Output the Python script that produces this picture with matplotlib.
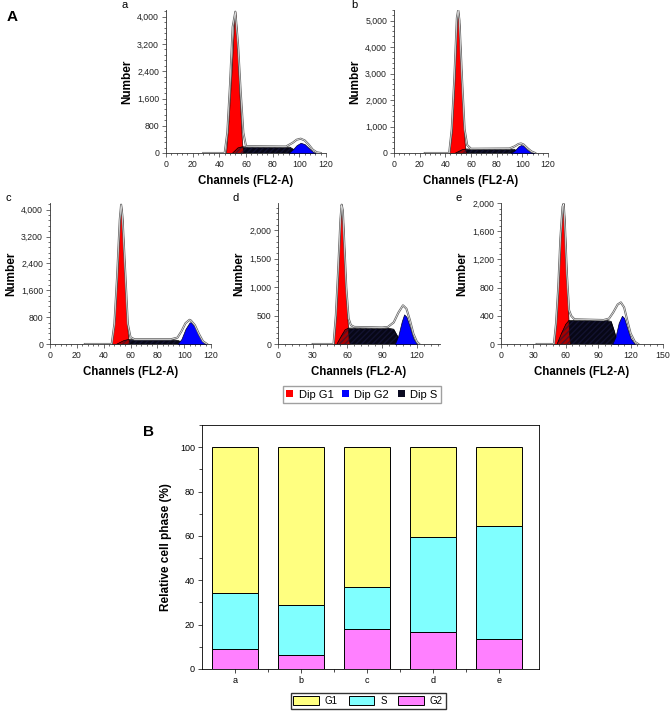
import matplotlib
matplotlib.use('Agg')
import matplotlib.pyplot as plt
from matplotlib.ticker import MultipleLocator, AutoMinorLocator, FuncFormatter
from matplotlib.patches import Patch

plt.rcParams['font.family'] = ['Liberation Sans', 'DejaVu Sans']

# ---------------- Panel A data ----------------
panel_names = ['a', 'b', 'c', 'd', 'e']

g1_ch_a = [45, 47, 49, 51, 52, 53, 55, 57, 58]
g1_val_a = [0, 1000, 2300, 3800, 4150, 3600, 1800, 300, 0]
s_ch_a = [50, 54, 57, 60, 90, 93, 96, 99]
s_val_a = [0, 150, 180, 180, 180, 170, 100, 0]
g2_ch_a = [92, 95, 98, 101, 104, 107, 110, 112]
g2_val_a = [0, 100, 230, 300, 260, 150, 40, 0]
tot_ch_a = [28, 44, 46, 48, 50, 52, 54, 56, 58, 60, 90, 95, 98, 101, 104, 107, 110, 113, 116]
tot_val_a = [0, 0, 600, 2000, 3700, 4150, 3200, 1800, 600, 200, 190, 300, 390, 420, 370, 250, 100, 20, 0]

g1_ch_b = [43, 45, 47, 49, 50, 51, 53, 55, 56]
g1_val_b = [0, 800, 2600, 5000, 5400, 4800, 2400, 400, 0]
s_ch_b = [48, 53, 56, 90, 94, 97]
s_val_b = [0, 120, 150, 150, 140, 0]
g2_ch_b = [91, 94, 97, 99, 101, 104, 107, 109]
g2_val_b = [0, 90, 250, 300, 270, 120, 20, 0]
tot_ch_b = [24, 43, 45, 47, 49, 50, 51, 53, 55, 57, 60, 90, 94, 97, 99, 101, 104, 107, 110]
tot_val_b = [0, 0, 900, 2800, 5100, 5400, 5000, 2800, 900, 300, 160, 170, 250, 340, 360, 320, 180, 60, 0]

g1_ch_c = [46, 48, 50, 52, 53, 54, 56, 58, 59]
g1_val_c = [0, 700, 2000, 3700, 4150, 3700, 1900, 300, 0]
s_ch_c = [50, 55, 58, 92, 96, 99]
s_val_c = [0, 100, 130, 130, 100, 0]
g2_ch_c = [95, 98, 101, 104, 105, 108, 111, 114, 116]
g2_val_c = [0, 150, 450, 640, 650, 520, 250, 60, 0]
tot_ch_c = [26, 46, 48, 50, 52, 53, 54, 56, 58, 60, 63, 90, 95, 98, 101, 104, 105, 108, 111, 114, 117]
tot_val_c = [0, 0, 600, 2000, 3700, 4150, 3800, 2200, 600, 200, 140, 140, 190, 380, 620, 720, 700, 560, 300, 80, 0]

g1_ch_d = [48, 50, 52, 54, 55, 56, 57, 59, 61, 62]
g1_val_d = [0, 500, 1300, 2200, 2450, 2300, 1800, 800, 100, 0]
s_ch_d = [51, 55, 58, 61, 95, 100, 103, 106]
s_val_d = [0, 150, 250, 280, 280, 260, 150, 0]
g2_ch_d = [101, 104, 107, 109, 111, 114, 117, 120]
g2_val_d = [0, 150, 400, 520, 480, 300, 100, 0]
tot_ch_d = [30, 48, 50, 52, 54, 55, 56, 57, 59, 61, 63, 66, 90, 95, 100, 104, 108, 111, 114, 117, 120, 122]
tot_val_d = [0, 0, 500, 1300, 2200, 2450, 2350, 1900, 1000, 450, 330, 300, 290, 300, 380, 550, 680, 620, 420, 180, 40, 0]

g1_ch_e = [49, 51, 53, 55, 57, 58, 59, 61, 63, 64]
g1_val_e = [0, 300, 800, 1500, 1950, 1980, 1700, 900, 150, 0]
s_ch_e = [52, 56, 60, 63, 98, 102, 105, 108]
s_val_e = [0, 150, 280, 335, 335, 320, 180, 0]
g2_ch_e = [103, 106, 109, 112, 114, 117, 120, 124]
g2_val_e = [0, 100, 300, 400, 370, 220, 80, 0]
tot_ch_e = [33, 49, 51, 53, 55, 57, 58, 59, 61, 63, 65, 68, 95, 100, 104, 108, 111, 114, 117, 120, 124, 127]
tot_val_e = [0, 0, 300, 800, 1500, 1950, 1990, 1750, 1000, 480, 400, 350, 340, 360, 450, 560, 590, 520, 330, 150, 30, 0]

x_max = [120, 120, 120, 140, 150]
x_step = [20, 20, 20, 30, 30]
y_max = [4200, 5400, 4200, 2480, 2000]
y_step = [800, 1000, 800, 500, 400]

# ---------------- Panel B data ----------------
samples = ['a', 'b', 'c', 'd', 'e']
g2_pct = [9.0, 6.5, 18.0, 16.7, 13.7]
s_pct = [25.3, 22.2, 18.8, 42.7, 50.8]
g1_pct = [65.7, 71.3, 63.2, 40.6, 35.5]

# ---------------- Figure ----------------
W, H = 672, 711
fig = plt.figure(figsize=(W / 100, H / 100), dpi=100)

def frac(left, right, top, bottom):
    return [left / W, 1 - bottom / H, (right - left) / W, (bottom - top) / H]

rects = [frac(166, 326, 10, 153), frac(394, 548, 10, 153),
         frac(50, 211, 203, 344), frac(278, 440, 203, 344), frac(501, 663, 203, 344)]

panel_data = {
    'a': (g1_ch_a, g1_val_a, s_ch_a, s_val_a, g2_ch_a, g2_val_a, tot_ch_a, tot_val_a),
    'b': (g1_ch_b, g1_val_b, s_ch_b, s_val_b, g2_ch_b, g2_val_b, tot_ch_b, tot_val_b),
    'c': (g1_ch_c, g1_val_c, s_ch_c, s_val_c, g2_ch_c, g2_val_c, tot_ch_c, tot_val_c),
    'd': (g1_ch_d, g1_val_d, s_ch_d, s_val_d, g2_ch_d, g2_val_d, tot_ch_d, tot_val_d),
    'e': (g1_ch_e, g1_val_e, s_ch_e, s_val_e, g2_ch_e, g2_val_e, tot_ch_e, tot_val_e),
}

comma = FuncFormatter(lambda v, p: f"{int(round(v)):,}")

for i, name in enumerate(panel_names):
    ax = fig.add_axes(rects[i])
    g1c, g1v, sc, sv, g2c, g2v, tc, tv = panel_data[name]
    ax.fill_between(sc, sv, color='#0b0b22', lw=0, zorder=1)
    ax.fill_between(g1c, g1v, facecolor='#ff0000', edgecolor='#300000', lw=0.5, zorder=2)
    ax.fill_between(sc, sv, facecolor=(0, 0, 0, 0.35), edgecolor=(0.1, 0.1, 0.25, 0.6),
                    hatch='//////', lw=0, zorder=3)
    ax.plot(sc, sv, color='black', lw=0.5, zorder=3)
    ax.fill_between(g2c, g2v, facecolor='#0000ff', edgecolor='#000030', lw=0.5, zorder=4)
    ax.plot(tc, tv, color='#606060', lw=1.5, zorder=5)
    ax.plot(tc, tv, color='white', lw=0.45, zorder=6)

    ax.set_xlim(0, x_max[i])
    ax.set_ylim(0, y_max[i])
    ax.xaxis.set_major_locator(MultipleLocator(x_step[i]))
    ax.yaxis.set_major_locator(MultipleLocator(y_step[i]))
    ax.xaxis.set_minor_locator(AutoMinorLocator(5))
    ax.yaxis.set_minor_locator(AutoMinorLocator(5))
    ax.yaxis.set_major_formatter(comma)
    for side in ('top', 'right'):
        ax.spines[side].set_visible(False)
    for side in ('left', 'bottom'):
        ax.spines[side].set_linewidth(0.6)
        ax.spines[side].set_color('#333333')
    ax.tick_params(which='both', direction='out', width=0.5, colors='#333333',
                   labelsize=6.3, labelcolor='#222222', pad=2)
    ax.tick_params(which='major', length=3)
    ax.tick_params(which='minor', length=1.5)
    ax.set_xlabel('Channels (FL2-A)', fontsize=8.3, fontweight='bold', labelpad=4.5)
    ax.set_ylabel('Number', fontsize=8.5, fontweight='bold', labelpad=3)
    ax.text(-0.26, 1.0, name, transform=ax.transAxes, fontsize=8, ha='center', va='bottom')

fig.text(12 / W, 1 - 17 / H, 'A', fontsize=11, fontweight='bold', ha='center', va='center')

# Legend for panel A
leg_handles = [Patch(facecolor='#ff0000', edgecolor='none', label='Dip G1'),
               Patch(facecolor='#0000ff', edgecolor='none', label='Dip G2'),
               Patch(facecolor='#0b0b22', edgecolor='none', label='Dip S')]
fig.legend(handles=leg_handles, loc='center', bbox_to_anchor=(362 / W, 1 - 394.5 / H),
           ncol=3, fontsize=8, frameon=True, fancybox=False, edgecolor='#888888',
           handlelength=0.6, handleheight=0.6, handletextpad=0.5, columnspacing=0.8,
           borderpad=0.35)

# ---------------- Panel B ----------------
axb = fig.add_axes(frac(202, 539, 425, 669))
xpos = list(range(len(samples)))
bottom_s = [g for g in g2_pct]
bottom_g1 = [g + s for g, s in zip(g2_pct, s_pct)]
axb.bar(xpos, g2_pct, width=0.7, color='#ff80ff', edgecolor='black', lw=0.7, label='G2')
axb.bar(xpos, s_pct, bottom=bottom_s, width=0.7, color='#80ffff', edgecolor='black', lw=0.7, label='S')
axb.bar(xpos, g1_pct, bottom=bottom_g1, width=0.7, color='#ffff80', edgecolor='black', lw=0.7, label='G1')
axb.set_xlim(-0.5, 4.6)
axb.set_ylim(0, 110)
axb.set_xticks(xpos)
axb.set_xticklabels(samples)
axb.set_xticks([p + 0.5 for p in xpos[:-1]], minor=True)
axb.yaxis.set_major_locator(MultipleLocator(20))
axb.yaxis.set_minor_locator(MultipleLocator(10))
axb.tick_params(which='both', direction='out', width=0.5, labelsize=6.5, pad=2)
axb.tick_params(which='major', length=3)
axb.tick_params(which='minor', length=2)
for sp in axb.spines.values():
    sp.set_linewidth(0.6)
axb.set_ylabel('Relative cell phase (%)', fontsize=8.5, fontweight='bold', labelpad=6)
fig.text(148 / W, 1 - 432 / H, 'B', fontsize=11, fontweight='bold', ha='center', va='center')

hb, lb = axb.get_legend_handles_labels()
order = [2, 1, 0]
fig.legend([hb[k] for k in order], [lb[k] for k in order], loc='center',
           bbox_to_anchor=(368 / W, 1 - 701 / H), ncol=3, fontsize=7, frameon=True,
           fancybox=False, edgecolor='black', handlelength=2.6, handleheight=1.1,
           handletextpad=0.6, columnspacing=1.2, borderpad=0.3)

fig.savefig('out.png', dpi=100)
